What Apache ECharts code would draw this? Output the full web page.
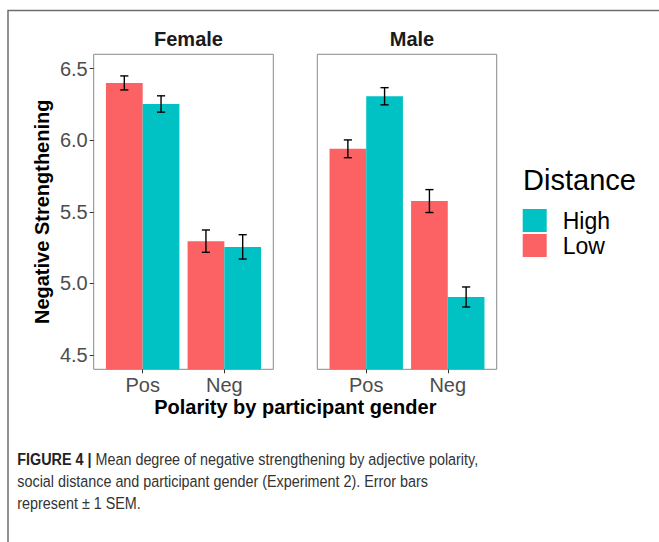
<!DOCTYPE html>
<html><head><meta charset="utf-8">
<script src="https://cdn.jsdelivr.net/npm/echarts@6/dist/echarts.min.js"></script>
<style>html,body{margin:0;padding:0;background:#fff}#c{width:659px;height:542px}</style>
</head><body><div id="c"></div>
<script>
// ---- data ----
var categories = ['Pos', 'Neg'];
var panels = ['Female', 'Male'];
var distanceLevels = ['High', 'Low'];
var femaleLow = [6.400, 5.295];
var femaleLowSE = [0.049, 0.078];
var femaleHigh = [6.253, 5.255];
var femaleHighSE = [0.057, 0.085];
var maleLow = [5.940, 5.575];
var maleLowSE = [0.062, 0.080];
var maleHigh = [6.307, 4.905];
var maleHighSE = [0.060, 0.070];
var yTicks = [4.5, 5.0, 5.5, 6.0, 6.5];

var RED = '#FC6163', TEAL = '#00C1C3';
var BAR_W = 0.45, CAP_W = 0.1;
var FONT = '"Liberation Sans", Arial, Helvetica, sans-serif';

function rows(vals, ses) {
  return vals.map(function (v, i) { return [i + 1, v, ses[i]]; });
}
function makeRender(side) {
  return function (params, api) {
    var x = api.value(0), v = api.value(1), se = api.value(2);
    var ymin = 4.4;
    var x0 = side < 0 ? x - BAR_W : x, x1 = side < 0 ? x : x + BAR_W;
    var p0 = api.coord([x0, v]), p1 = api.coord([x1, ymin]);
    var cx = (x0 + x1) / 2;
    var eTop = api.coord([cx, v + se]), eBot = api.coord([cx, v - se]);
    var cl = api.coord([cx - CAP_W / 2, v]), cr = api.coord([cx + CAP_W / 2, v]);
    return {
      type: 'group',
      children: [
        { type: 'rect', shape: { x: p0[0], y: p0[1], width: p1[0] - p0[0], height: p1[1] - p0[1] },
          style: { fill: api.visual('color') } },
        { type: 'line', shape: { x1: eTop[0], y1: eTop[1], x2: eBot[0], y2: eBot[1] }, style: { stroke: '#000', lineWidth: 1.4 } },
        { type: 'line', shape: { x1: cl[0], y1: eTop[1], x2: cr[0], y2: eTop[1] }, style: { stroke: '#000', lineWidth: 1.4 } },
        { type: 'line', shape: { x1: cl[0], y1: eBot[1], x2: cr[0], y2: eBot[1] }, style: { stroke: '#000', lineWidth: 1.4 } }
      ]
    };
  };
}

var gridTop = 54.3, gridH = 315;
var grids = [
  { left: 93.7, top: gridTop, width: 179.6, height: gridH },
  { left: 317.3, top: gridTop, width: 179.4, height: gridH }
].map(function (g) {
  return Object.assign(g, { show: true, borderColor: '#8a8a8a', borderWidth: 1, backgroundColor: '#fff' });
});

function xAxis(i) {
  return {
    type: 'value', gridIndex: i, min: 0.4, max: 2.6,
    axisLine: { show: false }, splitLine: { show: false },
    axisTick: { show: true, length: 4, customValues: [1, 2], lineStyle: { color: '#333', width: 1 } },
    axisLabel: { show: true, customValues: [1, 2], margin: 6, fontSize: 20, color: '#4d4d4d', fontFamily: FONT,
      formatter: function (v) { return categories[Math.round(v) - 1] || ''; } }
  };
}
function yAxis(i) {
  var a = {
    type: 'value', gridIndex: i, min: 4.4, max: 6.6,
    axisLine: { show: false }, splitLine: { show: false },
    axisTick: { show: i === 0, length: 4, customValues: yTicks, lineStyle: { color: '#333', width: 1 } },
    axisLabel: { show: i === 0, customValues: yTicks, margin: 6, fontSize: 20, color: '#4d4d4d', fontFamily: FONT,
      formatter: function (v) { return v.toFixed(1); } }
  };
  if (i === 0) {
    a.name = 'Negative Strengthening';
    a.nameLocation = 'middle';
    a.nameRotate = 90;
    a.nameGap = 42;
    a.nameTextStyle = { fontSize: 20, fontWeight: 'bold', color: '#000', fontFamily: FONT };
  }
  return a;
}

var series = [];
[[femaleLow, femaleLowSE, femaleHigh, femaleHighSE], [maleLow, maleLowSE, maleHigh, maleHighSE]].forEach(function (d, i) {
  series.push({ type: 'custom', name: 'Low', xAxisIndex: i, yAxisIndex: i, itemStyle: { color: RED },
    renderItem: makeRender(-1), data: rows(d[0], d[1]), encode: { x: 0, y: 1 }, z: 2 });
  series.push({ type: 'custom', name: 'High', xAxisIndex: i, yAxisIndex: i, itemStyle: { color: TEAL },
    renderItem: makeRender(1), data: rows(d[2], d[3]), encode: { x: 0, y: 1 }, z: 2 });
});

var CAP_SCALE = 0.845;
var chart = echarts.init(document.getElementById('c'), null, { renderer: 'svg' });
chart.setOption({
  animation: false,
  backgroundColor: '#fff',
  grid: grids,
  xAxis: [xAxis(0), xAxis(1)],
  yAxis: [yAxis(0), yAxis(1)],
  title: panels.map(function (p, i) {
    return { text: p, left: grids[i].left + grids[i].width / 2, top: 24, textAlign: 'center',
      textStyle: { fontSize: 20, fontWeight: 'bold', color: '#1a1a1a', fontFamily: FONT } };
  }),
  legend: {
    data: distanceLevels, orient: 'vertical', left: 517.7, top: 204,
    itemWidth: 24, itemHeight: 23, itemGap: 2, icon: 'rect',
    textStyle: { fontSize: 23, color: '#000', padding: [0, 0, 0, 11], fontFamily: FONT }
  },
  series: series,
  graphic: [
    { type: 'rect', shape: { x: 8, y: 10.5, width: 700, height: 600 }, style: { fill: 'none', stroke: '#6e6e6e', lineWidth: 1.5 }, silent: true, z: -10 },
    { type: 'text', x: 579.5, y: 180, style: { text: 'Distance', fontSize: 29, fill: '#000', align: 'center', verticalAlign: 'middle', fontFamily: FONT } },
    { type: 'text', x: 295.3, y: 407, style: { text: 'Polarity by participant gender', fontSize: 20, fontWeight: 'bold', fill: '#000', align: 'center', verticalAlign: 'middle', fontFamily: FONT } },
    { type: 'text', x: 17.3, y: 459, scaleX: CAP_SCALE, style: { text: '{b|FIGURE 4 |} Mean degree of negative strengthening by adjective polarity,', verticalAlign: 'middle', fontSize: 17, fill: '#333', fontFamily: FONT,
      rich: { b: { fontWeight: 'bold', fontSize: 17, fill: '#222', fontFamily: FONT } } } },
    { type: 'text', x: 17.3, y: 481, scaleX: CAP_SCALE, style: { text: 'social distance and participant gender (Experiment 2). Error bars', verticalAlign: 'middle', fontSize: 17, fill: '#333', fontFamily: FONT } },
    { type: 'text', x: 17.3, y: 503, scaleX: CAP_SCALE, style: { text: 'represent \u00b1 1 SEM.', verticalAlign: 'middle', fontSize: 17, fill: '#333', fontFamily: FONT } }
  ]
});
</script></body></html>
